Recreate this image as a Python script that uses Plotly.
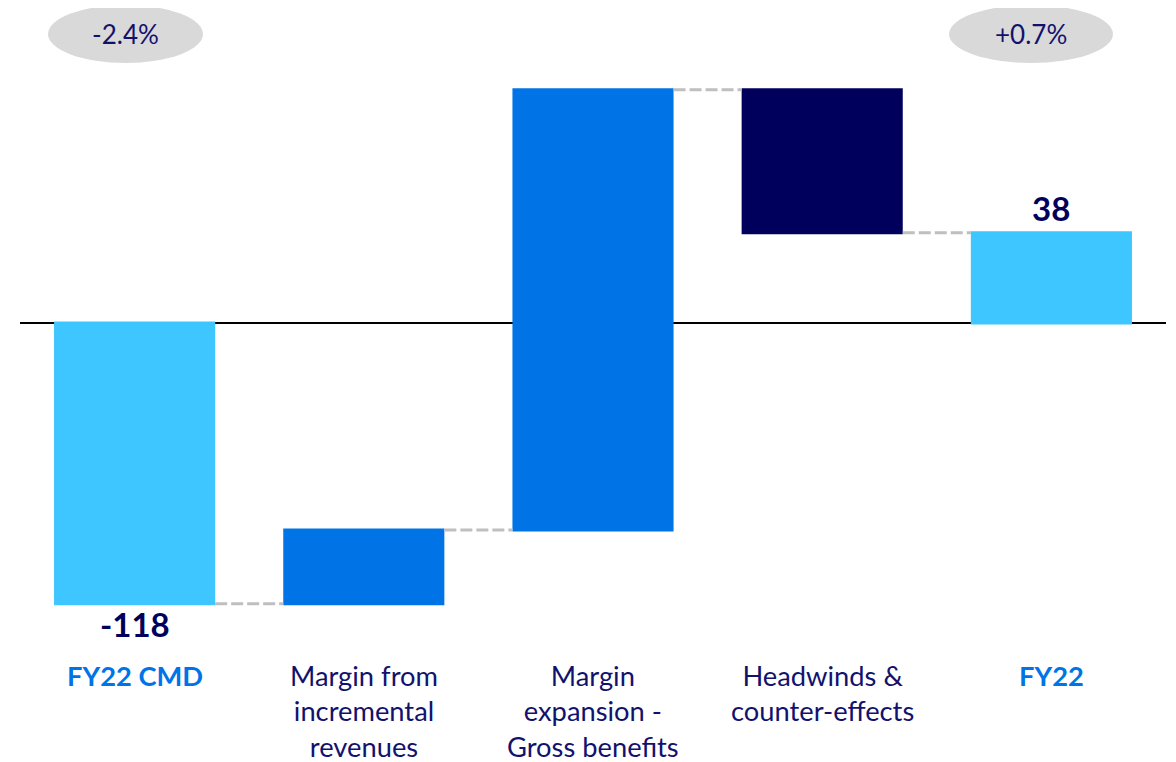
import plotly.graph_objects as go

categories = ["FY22 CMD", "Margin from incremental revenues", "Margin expansion - Gross benefits",
              "Headwinds & counter-effects", "FY22"]
tick_labels = ["FY22 CMD", "Margin from<br>incremental<br>revenues", "Margin<br>expansion -<br>Gross benefits",
               "Headwinds &<br>counter-effects", "FY22"]
values = [-118, 31, 185, -60, 38]
measures = ["absolute", "relative", "relative", "relative", "total"]
bold_cats = ["FY22 CMD", "FY22"]
pct_labels = ["-2.4%", "+0.7%"]

NAVY = "#12126E"
BLUE = "#0074E6"
LIGHT = "#3DC6FF"
DARK = "#00005C"
FONT = "Lato, Open Sans, sans-serif"

fig = go.Figure(go.Waterfall(
    x=categories, y=values, measure=measures,
    totals=dict(marker=dict(color=LIGHT)),
    increasing=dict(marker=dict(color=BLUE)),
    decreasing=dict(marker=dict(color=DARK)),
    connector=dict(mode="between", line=dict(color="#BFBFBF", width=3, dash="12px,4px")),
    width=0.703,
    textposition="none",
    hoverinfo="skip",
))

# value labels for totals
fig.add_annotation(x=categories[0], y=values[0], text="<b>%d</b>" % values[0], showarrow=False,
                   yanchor="top", yshift=2, font=dict(family=FONT, size=33, color=DARK))
fig.add_annotation(x=categories[4], y=values[4], text="<b>%d</b>" % values[4], showarrow=False,
                   yanchor="bottom", yshift=3, font=dict(family=FONT, size=33, color=DARK))

PH = 642.0  # plot height in px

# category labels
for cat, lab in zip(categories, tick_labels):
    if cat in bold_cats:
        txt = "<b>%s</b>" % lab
        col = BLUE
    else:
        txt = lab
        col = NAVY
    fig.add_annotation(x=cat, xref="x", y=-7 / PH, yref="paper", text=txt, showarrow=False,
                       xanchor="center", yanchor="top", align="center",
                       font=dict(family=FONT, size=27.3, color=col))

# grey ellipses with percentages
ell = [((40, 195), pct_labels[0]), ((941, 1105), pct_labels[1])]
for (px0, px1), t in ell:
    x0 = (px0 - 12) / 1146
    x1 = (px1 - 12) / 1146
    fig.add_shape(type="circle", xref="paper", yref="paper", x0=x0, x1=x1,
                  y0=1 - 55 / PH, y1=1 + 3 / PH, fillcolor="#D9D9D9", line=dict(width=0), layer="below")
    fig.add_annotation(xref="paper", yref="paper", x=(x0 + x1) / 2, y=1 - 26 / PH, text=t,
                       xanchor="center", yanchor="middle",
                       showarrow=False, font=dict(family=FONT, size=26, color=NAVY))

fig.update_layout(
    width=1160, height=754,
    margin=dict(l=12, r=2, t=0, b=112),
    plot_bgcolor="white", paper_bgcolor="white",
    showlegend=False,
    xaxis=dict(showticklabels=False, showgrid=False, zeroline=False, showline=False),
    yaxis=dict(range=[-137.4, 132.4], showticklabels=False, showgrid=False,
               zeroline=True, zerolinecolor="black", zerolinewidth=2, showline=False),
)

fig.write_html("out.html")
